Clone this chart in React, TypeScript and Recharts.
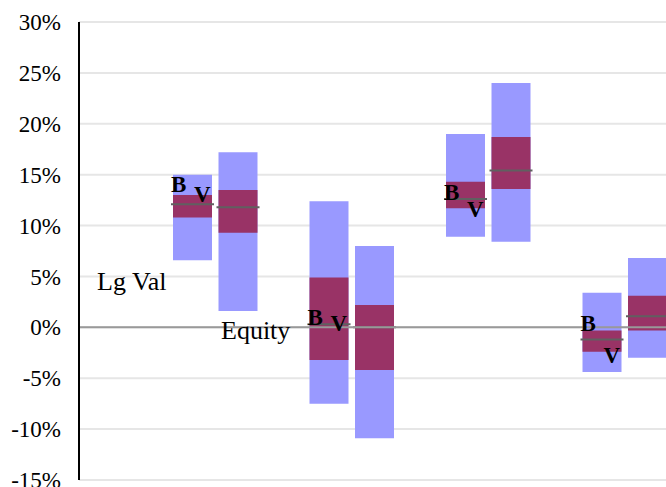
import React from 'react'
import {
  ComposedChart,
  Bar,
  Scatter,
  XAxis,
  YAxis,
  CartesianGrid,
  ReferenceLine,
} from 'recharts'

// category slots (blank ones are the gaps between groups)
const categories = [
  'gap0', 'gap1', 'G1 B', 'G1 V', 'gap2', 'G2 B', 'G2 V', 'gap3',
  'G3 B', 'G3 V', 'gap4', 'G4 B', 'G4 V', 'gap5',
]

// outer (light) range
const lightLow = [null, null, 6.6, 1.6, null, -7.5, -10.9, null, 8.9, 8.4, null, -4.4, -3.0, null]
const lightHigh = [null, null, 15.0, 17.2, null, 12.4, 8.0, null, 19.0, 24.0, null, 3.4, 6.8, null]
// inner (dark) range
const darkLow = [null, null, 10.8, 9.3, null, -3.2, -4.2, null, 11.7, 13.6, null, -2.4, -0.3, null]
const darkHigh = [null, null, 13.0, 13.5, null, 4.9, 2.2, null, 14.3, 18.7, null, -0.3, 3.1, null]
// median
const median = [null, null, 12.1, 11.8, null, 0.3, 0.0, null, 12.6, 15.4, null, -1.2, 1.1, null]
// B / V markers (drawn over the B bar)
const bMark = [null, null, 14.0, null, null, 1.0, null, null, 13.3, null, null, 0.4, null, null]
const vMark = [null, null, 13.1, null, null, 0.4, null, null, 11.6, null, null, -2.8, null, null]

const yTicks = [-15, -10, -5, 0, 5, 10, 15, 20, 25, 30]

const data = categories.map((name, i) => ({
  name,
  light: lightLow[i] == null ? null : [lightLow[i], lightHigh[i]],
  dark: darkLow[i] == null ? null : [darkLow[i], darkHigh[i]],
  med: median[i] == null ? null : [median[i]! - 0.1, median[i]! + 0.1],
  b: bMark[i],
  v: vMark[i],
}))

const serif = 'Liberation Serif, Times New Roman, serif'

const MedianLine = (props: any) => {
  const { x, y, width, height } = props
  if (x == null || !isFinite(y)) return <g />
  const my = y + height / 2
  return <line x1={x - 2} x2={x + width + 2} y1={my} y2={my} stroke="#606060" strokeWidth={2} />
}

const letter = (ch: string, key: 'b' | 'v', dx: number) => (props: any) => {
  const { cx, cy, payload } = props
  if (!payload || payload[key] == null || !isFinite(cx) || !isFinite(cy)) return <g />
  return (
    <text x={cx + dx} y={cy + 7.6} textAnchor="middle" style={{ fontFamily: serif }} fontWeight="bold" fontSize={23} fill="#000">
      {ch}
    </text>
  )
}

export default function App() {
  return (
    <div style={{ position: 'absolute', left: 0, top: 0, width: 666, height: 487, overflow: 'hidden', background: '#fff' }}>
      <ComposedChart width={720} height={487} data={data} margin={{ top: 22, right: 4, left: 0, bottom: 7 }}>
        <CartesianGrid xAxisId="a" vertical={false} stroke="#e6e6e6" strokeWidth={2} />
        <XAxis xAxisId="a" dataKey="name" tick={false} tickLine={false} height={0} axisLine={{ stroke: '#000', strokeWidth: 2 }} />
        <XAxis xAxisId="top" dataKey="name" orientation="top" tick={false} tickLine={false} height={0} axisLine={{ stroke: '#000', strokeWidth: 2 }} />
        <XAxis xAxisId="b" dataKey="name" hide />
        <XAxis xAxisId="c" dataKey="name" hide />
        <YAxis
          domain={[-15, 30]}
          ticks={yTicks}
          interval={0}
          width={79}
          tickFormatter={(v) => `${v}%`}
          tickLine={false}
          tickSize={0}
          tickMargin={18}
          axisLine={{ stroke: '#000', strokeWidth: 2 }}
          tick={{ fill: '#000', fontSize: 23, style: { fontFamily: serif } }}
        />
        <Bar xAxisId="a" dataKey="light" fill="#9999FF" barSize={39} isAnimationActive={false} />
        <Bar xAxisId="b" dataKey="dark" fill="#993366" barSize={39} isAnimationActive={false} />
        <ReferenceLine xAxisId="a" y={0} stroke="#999" strokeWidth={2} />
        <Bar xAxisId="c" dataKey="med" barSize={39} shape={MedianLine} isAnimationActive={false} />
        <Scatter xAxisId="a" dataKey="b" shape={letter('B', 'b', -14)} isAnimationActive={false} />
        <Scatter xAxisId="a" dataKey="v" shape={letter('V', 'v', 9.5)} isAnimationActive={false} />
      </ComposedChart>
      <svg width={666} height={487} style={{ position: 'absolute', left: 0, top: 0, pointerEvents: 'none', fontFamily: serif }}>
        <text x={97} y={290} fontSize={26} fill="#000">Lg Val</text>
        <text x={221} y={339} fontSize={26} fill="#000">Equity</text>
      </svg>
    </div>
  )
}
